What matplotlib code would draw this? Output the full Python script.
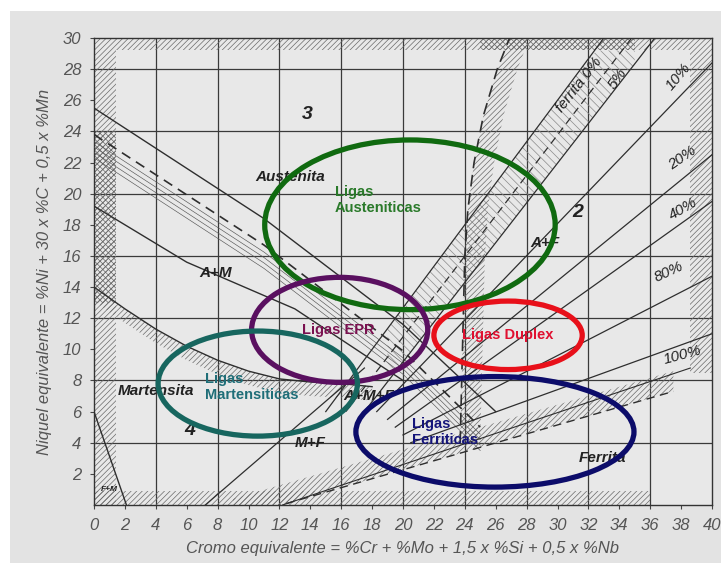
import matplotlib
matplotlib.use("Agg")
import matplotlib.pyplot as plt
import numpy as np
from matplotlib.patches import Ellipse, Rectangle

plt.rcParams['hatch.linewidth'] = 0.5

# ---------------- data ----------------
x_ticks = list(range(0, 41, 2))
y_ticks = list(range(2, 31, 2))
grid_x = [4, 8, 12, 16, 20, 24, 28, 32, 36]
grid_y = [4, 8, 12, 16, 20, 24, 28]

# martensite boundary lines (Cr_eq, Ni_eq)
mart_upper_x = [0, 11, 20, 26]
mart_upper_y = [25.5, 18.4, 11.6, 6.0]
mart_dash_x = [0, 11, 20, 25]
mart_dash_y = [23.8, 16.7, 9.9, 5.0]
mart_lower_x = [0, 6, 13, 20]
mart_lower_y = [19.2, 15.6, 12.6, 8.0]

# M / M+F hatched curve
mcurve_x = [0, 2, 4, 6, 8, 10, 12, 14, 16, 18]
mcurve_y = [14.0, 12.6, 11.3, 10.2, 9.3, 8.6, 8.1, 7.9, 7.8, 7.6]

# F+M line
fm_x = [0, 2.1]
fm_y = [6.0, 0.0]

# M+F diagonal
mf_x = [7.2, 17.5]
mf_y = [0.0, 8.8]

# iso-ferrite lines
iso_labels = ["0%", "5%", "b", "10%", "20%", "40%", "80%", "100%"]
iso_x0 = [15.0, 16.3, 17.5, 18.3, 19.0, 19.5, 20.0, 20.5]
iso_y0 = [6.0, 6.0, 6.0, 6.0, 5.5, 5.0, 4.5, 4.0]
iso_x1 = [33.0, 34.8, 36.3, 40.0, 40.0, 40.0, 40.0, 40.0]
iso_y1 = [30.0, 30.0, 30.0, 28.4, 22.5, 19.5, 14.7, 11.0]
iso_style = ["-", "--", "-", "-", "-", "-", "-", "-"]

# ferrite boundary band
fb_x = [9, 37.5]
fb_low = [-0.9, 7.3]
fb_high = [0.4, 8.6]
fsolid_x = [12.2, 38.6]
fsolid_y = [0.0, 8.8]

# A+F curved boundary
afc_y = np.array([4, 8, 12, 16, 19, 22, 25, 28, 30])
afc_x = np.array([23.7, 23.8, 23.9, 24.0, 24.2, 24.6, 25.2, 26.1, 26.9])

# region labels
region_text = ["3", "Austenita", "2", "A+F", "A+M", "Martensita", "4", "M+F",
               "A+M+F", "Ferrita", "F+M"]
region_x = [13.8, 12.7, 31.3, 29.2, 7.9, 4.0, 6.2, 14.0, 17.8, 32.9, 1.0]
region_y = [25.1, 21.1, 18.8, 16.8, 14.9, 7.3, 4.8, 4.0, 7.0, 3.0, 1.0]
region_size = [14, 11, 14, 11, 11, 11, 14, 11, 11, 11, 6]

pct_text = ["ferrita 0%", "5%", "10%", "20%", "40%", "80%", "100%"]
pct_x = [31.4, 33.9, 37.8, 38.1, 38.1, 37.2, 38.1]
pct_y = [27.0, 27.4, 27.5, 22.3, 19.0, 15.0, 9.6]
pct_rot = [52, 55, 50, 35, 30, 25, 15]

# alloy ellipses
ell_names = ["Ligas\nAusteniticas", "Ligas EPR", "Ligas\nMartensiticas",
             "Ligas Duplex", "Ligas\nFerriticas"]
ell_cx = [20.45, 15.9, 10.6, 26.8, 25.95]
ell_cy = [18.0, 11.25, 7.8, 10.9, 4.7]
ell_w = [18.8, 11.4, 12.9, 9.6, 18.0]
ell_h = [10.9, 6.75, 6.75, 4.4, 7.1]
ell_colors = ["#106a10", "#5a1060", "#17665f", "#e8101a", "#0c0c6a"]
txt_colors = ["#2a7a2a", "#7a1050", "#1f6e78", "#e01030", "#14147a"]
txt_x = [15.6, 15.8, 7.2, 26.8, 20.6]
txt_y = [19.6, 11.25, 7.6, 10.9, 4.7]
txt_ha = ["left", "center", "left", "center", "left"]

# ---------------- figure ----------------
fig = plt.figure(figsize=(7.21, 5.63), dpi=100)
fig.patch.set_facecolor("white")
fig.patches.append(Rectangle((10 / 721, 0), 711 / 721, 552 / 563,
                             transform=fig.transFigure, facecolor="#e3e3e3",
                             edgecolor="none", zorder=-10))
ax = fig.add_axes([94 / 721, 58 / 563, 618 / 721, 467 / 563])
ax.set_facecolor("#e8e8e8")
ax.set_xlim(0, 40)
ax.set_ylim(0, 30)

lc = "#2e2e2e"
hc = "#6a6a6a"

for gx in grid_x:
    ax.axvline(gx, color="#3a3a3a", lw=0.9, zorder=1)
for gy in grid_y:
    ax.axhline(gy, color="#3a3a3a", lw=0.9, zorder=1)

def hband(xs, y1, y2, hatch="//////"):
    ax.fill_between(xs, y1, y2, facecolor="none", edgecolor=hc, hatch=hatch,
                    linewidth=0, zorder=2)

# border bands
hband([0, 40], [29.2, 29.2], [30, 30])
hband([25, 35], [29.2, 29.2], [30, 30], hatch="xxxxxx")
ax.fill_betweenx([0, 29.2], [0, 0], [1.4, 1.4], facecolor="none", edgecolor=hc,
                 hatch="//////", linewidth=0, zorder=2)
ax.fill_betweenx([13, 24], [0, 0], [1.4, 1.4], facecolor="none", edgecolor=hc,
                 hatch="xxxxxx", linewidth=0, zorder=2)
hband([0, 36], [0, 0], [0.9, 0.9])
ax.fill_betweenx([8.5, 29.2], [38.6, 38.6], [40, 40], facecolor="none",
                 edgecolor=hc, hatch="//////", linewidth=0, zorder=2)

# martensite lines
ax.plot(mart_upper_x, mart_upper_y, color=lc, lw=1.0, zorder=3)
ax.plot(mart_dash_x, mart_dash_y, color=lc, lw=1.2, ls=(0, (6, 4)), zorder=3)
mux = np.array(mart_dash_x, float)
mdy = np.array(mart_dash_y, float)
for off in [-0.45, -0.8, -1.15, -1.5]:
    ax.plot(mux, mdy + off, color="#555555", lw=0.45, zorder=3)
ax.plot(mart_lower_x, mart_lower_y, color=lc, lw=1.0, zorder=3)

# M curve with hatched band
mcx = np.array(mcurve_x, float)
mcy = np.array(mcurve_y, float)
ax.plot(mcx, mcy, color=lc, lw=1.0, zorder=3)
hband(mcx, mcy - 0.9, mcy)

# F+M and M+F lines
ax.plot(fm_x, fm_y, color=lc, lw=1.0, zorder=3)
ax.plot(mf_x, mf_y, color=lc, lw=0.9, zorder=3)

# iso-ferrite lines
for i in range(len(iso_labels)):
    ax.plot([iso_x0[i], iso_x1[i]], [iso_y0[i], iso_y1[i]], color=lc, lw=0.9,
            ls=iso_style[i] if iso_style[i] == "-" else (0, (6, 4)), zorder=3)

def interp_line(i, x):
    return iso_y0[i] + (iso_y1[i] - iso_y0[i]) * (x - iso_x0[i]) / (iso_x1[i] - iso_x0[i])

bx = np.linspace(19, 35, 30)
ax.fill_between(bx, np.minimum(interp_line(2, bx), 29.2),
                np.minimum(interp_line(0, bx), 29.2),
                facecolor="none", edgecolor="#8a8a8a", hatch="\\\\\\\\",
                linewidth=0, zorder=2)

# ferrite boundary band
hband(fb_x, fb_low, fb_high)
ax.plot(fb_x, fb_low, color=lc, lw=1.0, ls=(0, (6, 4)), zorder=3)
ax.plot(fsolid_x, fsolid_y, color=lc, lw=0.8, zorder=3)

# A+F curved boundary
ax.plot(afc_x, afc_y, color=lc, lw=1.2, ls=(0, (7, 4)), zorder=3)
ax.fill_betweenx(afc_y, afc_x, afc_x + 1.3, facecolor="none", edgecolor=hc,
                 hatch="//////", linewidth=0, zorder=2)

# region labels
for t, x, y, s in zip(region_text, region_x, region_y, region_size):
    ax.text(x, y, t, fontsize=s, fontweight="bold", fontstyle="italic",
            color="#222222", ha="center", va="center", family="Liberation Sans",
            zorder=4)
for t, x, y, r in zip(pct_text, pct_x, pct_y, pct_rot):
    ax.text(x, y, t, fontsize=11, fontstyle="italic", color="#222222",
            ha="center", va="center", rotation=r, family="Liberation Sans",
            zorder=4)

# ellipses
for i in range(len(ell_names)):
    ax.add_patch(Ellipse((ell_cx[i], ell_cy[i]), ell_w[i], ell_h[i],
                         facecolor="none", edgecolor=ell_colors[i], lw=3.8,
                         zorder=6))
    ax.text(txt_x[i], txt_y[i], ell_names[i], color=txt_colors[i], fontsize=10.5,
            fontweight="bold", ha=txt_ha[i], va="center", ma="left",
            family="Liberation Sans", zorder=7, linespacing=1.15)

# ticks
ax.set_xticks(x_ticks)
ax.set_yticks(y_ticks)
ax.tick_params(length=3, color="#444444", labelsize=12, labelcolor="#555555",
               pad=6)
for lab in ax.get_xticklabels() + ax.get_yticklabels():
    lab.set_fontstyle("italic")
    lab.set_family("Liberation Sans")
for sp in ax.spines.values():
    sp.set_color("#333333")
    sp.set_linewidth(1.0)

ax.set_xlabel("Cromo equivalente = %Cr + %Mo + 1,5 x %Si + 0,5 x %Nb",
              fontsize=12, fontstyle="italic", color="#555555",
              family="Liberation Sans", labelpad=6)
ax.set_ylabel("Niquel equivalente = %Ni + 30 x %C + 0,5 x %Mn",
              fontsize=12, fontstyle="italic", color="#555555",
              family="Liberation Sans", labelpad=8)

fig.savefig("out.png", dpi=100, facecolor=fig.get_facecolor())
